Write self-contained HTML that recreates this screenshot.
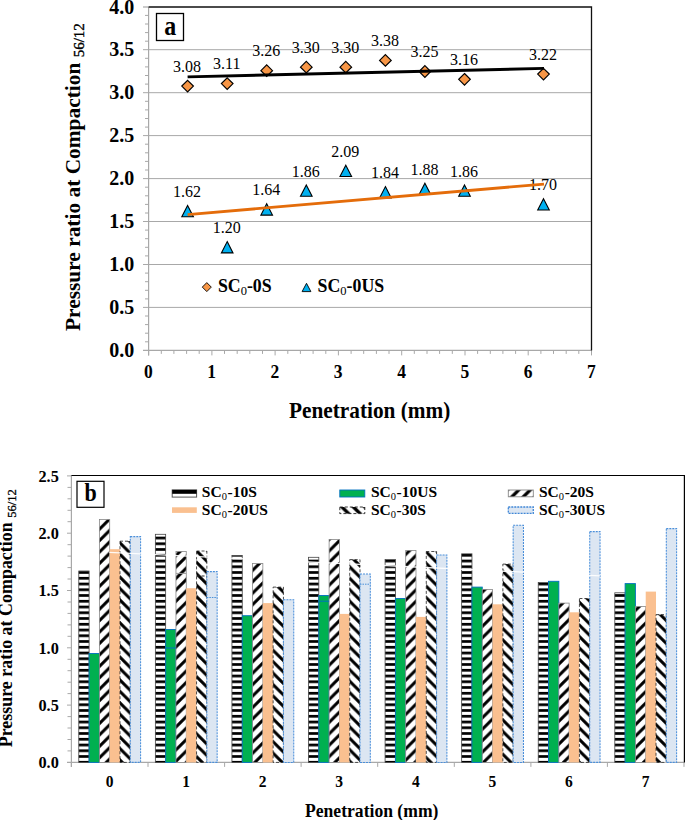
<!DOCTYPE html>
<html><head><meta charset="utf-8"><style>
html,body{margin:0;padding:0;background:#fff;width:685px;height:820px;overflow:hidden;position:relative}
text{font-family:"Liberation Serif",serif}
.ya{font-weight:bold;font-size:20px}
.xa{font-weight:bold;font-size:17.5px}
.yb{font-weight:bold;font-size:16.3px}
.xb{font-weight:bold;font-size:15.5px}
.dl{font-size:16px}
.lab{font-weight:bold;font-size:24px}
.lab2{font-weight:bold;font-size:22px}
.lg{font-weight:bold;font-size:17.8px}
.sub{font-weight:normal;font-size:12.5px}
.lgb{font-weight:bold;font-size:15.5px}
.subb{font-weight:normal;font-size:10.5px}
.ti{font-weight:bold;font-size:21.4px}
.tsub{font-weight:normal;font-size:15px;stroke:#000;stroke-width:0.35px}
.tib{font-weight:bold;font-size:17.6px}
.tib2{font-weight:bold;font-size:17.6px}
.tib3{font-weight:bold;font-size:17.95px}
.ti2{font-weight:bold;font-size:21.3px}
.tsubb{font-weight:normal;font-size:12.6px;stroke:#000;stroke-width:0.3px}
</style></head><body>
<svg width="685" height="820" viewBox="0 0 685 820" style="position:absolute;left:0;top:0">
<defs>
<pattern id="ph" patternUnits="userSpaceOnUse" width="20" height="5.75" y="1.9"><rect width="20" height="2.7" fill="#000"/></pattern>
<pattern id="pu" patternUnits="userSpaceOnUse" width="11.43" height="11.43" x="0" y="0"><path d="M-3,14.43 L14.43,-3 M-14.43,14.43 L3,-3 M8.43,14.43 L25.86,-3" stroke="#000" stroke-width="3.0"/></pattern>
<pattern id="pd" patternUnits="userSpaceOnUse" width="11.43" height="11.43" x="0" y="0"><path d="M-3,-3 L14.43,14.43 M-14.43,-3 L3,14.43 M8.43,-3 L25.86,14.43" stroke="#000" stroke-width="3.0"/></pattern>
<pattern id="puL" patternUnits="userSpaceOnUse" width="11.43" height="11.43" x="2.86" y="0"><path d="M-3,14.43 L14.43,-3 M-14.43,14.43 L3,-3 M8.43,14.43 L25.86,-3" stroke="#000" stroke-width="3.2"/></pattern>
<pattern id="pdL" patternUnits="userSpaceOnUse" width="11.43" height="11.43" x="6.45" y="0"><path d="M-3,-3 L14.43,14.43 M-14.43,-3 L3,14.43 M8.43,-3 L25.86,14.43" stroke="#000" stroke-width="3.4"/></pattern>
</defs>
<rect width="685" height="820" fill="#fff"/>
<line x1="143" y1="307.4" x2="591.5" y2="307.4" stroke="#A8A8A8" stroke-width="1"/>
<line x1="143" y1="264.5" x2="591.5" y2="264.5" stroke="#A8A8A8" stroke-width="1"/>
<line x1="143" y1="221.5" x2="591.5" y2="221.5" stroke="#A8A8A8" stroke-width="1"/>
<line x1="143" y1="178.6" x2="591.5" y2="178.6" stroke="#A8A8A8" stroke-width="1"/>
<line x1="143" y1="135.6" x2="591.5" y2="135.6" stroke="#A8A8A8" stroke-width="1"/>
<line x1="143" y1="92.7" x2="591.5" y2="92.7" stroke="#A8A8A8" stroke-width="1"/>
<line x1="143" y1="49.7" x2="591.5" y2="49.7" stroke="#A8A8A8" stroke-width="1"/>
<line x1="145" y1="341.8" x2="148.6" y2="341.8" stroke="#A8A8A8" stroke-width="1"/>
<line x1="145" y1="333.2" x2="148.6" y2="333.2" stroke="#A8A8A8" stroke-width="1"/>
<line x1="145" y1="324.6" x2="148.6" y2="324.6" stroke="#A8A8A8" stroke-width="1"/>
<line x1="145" y1="316.0" x2="148.6" y2="316.0" stroke="#A8A8A8" stroke-width="1"/>
<line x1="145" y1="298.9" x2="148.6" y2="298.9" stroke="#A8A8A8" stroke-width="1"/>
<line x1="145" y1="290.3" x2="148.6" y2="290.3" stroke="#A8A8A8" stroke-width="1"/>
<line x1="145" y1="281.7" x2="148.6" y2="281.7" stroke="#A8A8A8" stroke-width="1"/>
<line x1="145" y1="273.1" x2="148.6" y2="273.1" stroke="#A8A8A8" stroke-width="1"/>
<line x1="145" y1="255.9" x2="148.6" y2="255.9" stroke="#A8A8A8" stroke-width="1"/>
<line x1="145" y1="247.3" x2="148.6" y2="247.3" stroke="#A8A8A8" stroke-width="1"/>
<line x1="145" y1="238.7" x2="148.6" y2="238.7" stroke="#A8A8A8" stroke-width="1"/>
<line x1="145" y1="230.1" x2="148.6" y2="230.1" stroke="#A8A8A8" stroke-width="1"/>
<line x1="145" y1="213.0" x2="148.6" y2="213.0" stroke="#A8A8A8" stroke-width="1"/>
<line x1="145" y1="204.4" x2="148.6" y2="204.4" stroke="#A8A8A8" stroke-width="1"/>
<line x1="145" y1="195.8" x2="148.6" y2="195.8" stroke="#A8A8A8" stroke-width="1"/>
<line x1="145" y1="187.2" x2="148.6" y2="187.2" stroke="#A8A8A8" stroke-width="1"/>
<line x1="145" y1="170.0" x2="148.6" y2="170.0" stroke="#A8A8A8" stroke-width="1"/>
<line x1="145" y1="161.4" x2="148.6" y2="161.4" stroke="#A8A8A8" stroke-width="1"/>
<line x1="145" y1="152.8" x2="148.6" y2="152.8" stroke="#A8A8A8" stroke-width="1"/>
<line x1="145" y1="144.2" x2="148.6" y2="144.2" stroke="#A8A8A8" stroke-width="1"/>
<line x1="145" y1="127.1" x2="148.6" y2="127.1" stroke="#A8A8A8" stroke-width="1"/>
<line x1="145" y1="118.5" x2="148.6" y2="118.5" stroke="#A8A8A8" stroke-width="1"/>
<line x1="145" y1="109.9" x2="148.6" y2="109.9" stroke="#A8A8A8" stroke-width="1"/>
<line x1="145" y1="101.3" x2="148.6" y2="101.3" stroke="#A8A8A8" stroke-width="1"/>
<line x1="145" y1="84.1" x2="148.6" y2="84.1" stroke="#A8A8A8" stroke-width="1"/>
<line x1="145" y1="75.5" x2="148.6" y2="75.5" stroke="#A8A8A8" stroke-width="1"/>
<line x1="145" y1="66.9" x2="148.6" y2="66.9" stroke="#A8A8A8" stroke-width="1"/>
<line x1="145" y1="58.3" x2="148.6" y2="58.3" stroke="#A8A8A8" stroke-width="1"/>
<line x1="145" y1="41.2" x2="148.6" y2="41.2" stroke="#A8A8A8" stroke-width="1"/>
<line x1="145" y1="32.6" x2="148.6" y2="32.6" stroke="#A8A8A8" stroke-width="1"/>
<line x1="145" y1="24.0" x2="148.6" y2="24.0" stroke="#A8A8A8" stroke-width="1"/>
<line x1="145" y1="15.4" x2="148.6" y2="15.4" stroke="#A8A8A8" stroke-width="1"/>
<line x1="143" y1="7" x2="148.6" y2="7" stroke="#A8A8A8" stroke-width="1.2"/>
<line x1="143" y1="350.4" x2="591.5" y2="350.4" stroke="#A8A8A8" stroke-width="1.2"/>
<line x1="148.6" y1="350.4" x2="148.6" y2="355.4" stroke="#A8A8A8" stroke-width="1"/>
<line x1="161.3" y1="350.4" x2="161.3" y2="353.9" stroke="#A8A8A8" stroke-width="1"/>
<line x1="173.9" y1="350.4" x2="173.9" y2="353.9" stroke="#A8A8A8" stroke-width="1"/>
<line x1="186.6" y1="350.4" x2="186.6" y2="353.9" stroke="#A8A8A8" stroke-width="1"/>
<line x1="199.2" y1="350.4" x2="199.2" y2="353.9" stroke="#A8A8A8" stroke-width="1"/>
<line x1="211.9" y1="350.4" x2="211.9" y2="355.4" stroke="#A8A8A8" stroke-width="1"/>
<line x1="224.5" y1="350.4" x2="224.5" y2="353.9" stroke="#A8A8A8" stroke-width="1"/>
<line x1="237.2" y1="350.4" x2="237.2" y2="353.9" stroke="#A8A8A8" stroke-width="1"/>
<line x1="249.8" y1="350.4" x2="249.8" y2="353.9" stroke="#A8A8A8" stroke-width="1"/>
<line x1="262.5" y1="350.4" x2="262.5" y2="353.9" stroke="#A8A8A8" stroke-width="1"/>
<line x1="275.1" y1="350.4" x2="275.1" y2="355.4" stroke="#A8A8A8" stroke-width="1"/>
<line x1="287.8" y1="350.4" x2="287.8" y2="353.9" stroke="#A8A8A8" stroke-width="1"/>
<line x1="300.4" y1="350.4" x2="300.4" y2="353.9" stroke="#A8A8A8" stroke-width="1"/>
<line x1="313.1" y1="350.4" x2="313.1" y2="353.9" stroke="#A8A8A8" stroke-width="1"/>
<line x1="325.8" y1="350.4" x2="325.8" y2="353.9" stroke="#A8A8A8" stroke-width="1"/>
<line x1="338.4" y1="350.4" x2="338.4" y2="355.4" stroke="#A8A8A8" stroke-width="1"/>
<line x1="351.1" y1="350.4" x2="351.1" y2="353.9" stroke="#A8A8A8" stroke-width="1"/>
<line x1="363.7" y1="350.4" x2="363.7" y2="353.9" stroke="#A8A8A8" stroke-width="1"/>
<line x1="376.4" y1="350.4" x2="376.4" y2="353.9" stroke="#A8A8A8" stroke-width="1"/>
<line x1="389.0" y1="350.4" x2="389.0" y2="353.9" stroke="#A8A8A8" stroke-width="1"/>
<line x1="401.7" y1="350.4" x2="401.7" y2="355.4" stroke="#A8A8A8" stroke-width="1"/>
<line x1="414.3" y1="350.4" x2="414.3" y2="353.9" stroke="#A8A8A8" stroke-width="1"/>
<line x1="427.0" y1="350.4" x2="427.0" y2="353.9" stroke="#A8A8A8" stroke-width="1"/>
<line x1="439.6" y1="350.4" x2="439.6" y2="353.9" stroke="#A8A8A8" stroke-width="1"/>
<line x1="452.3" y1="350.4" x2="452.3" y2="353.9" stroke="#A8A8A8" stroke-width="1"/>
<line x1="465.0" y1="350.4" x2="465.0" y2="355.4" stroke="#A8A8A8" stroke-width="1"/>
<line x1="477.6" y1="350.4" x2="477.6" y2="353.9" stroke="#A8A8A8" stroke-width="1"/>
<line x1="490.3" y1="350.4" x2="490.3" y2="353.9" stroke="#A8A8A8" stroke-width="1"/>
<line x1="502.9" y1="350.4" x2="502.9" y2="353.9" stroke="#A8A8A8" stroke-width="1"/>
<line x1="515.6" y1="350.4" x2="515.6" y2="353.9" stroke="#A8A8A8" stroke-width="1"/>
<line x1="528.2" y1="350.4" x2="528.2" y2="355.4" stroke="#A8A8A8" stroke-width="1"/>
<line x1="540.9" y1="350.4" x2="540.9" y2="353.9" stroke="#A8A8A8" stroke-width="1"/>
<line x1="553.5" y1="350.4" x2="553.5" y2="353.9" stroke="#A8A8A8" stroke-width="1"/>
<line x1="566.2" y1="350.4" x2="566.2" y2="353.9" stroke="#A8A8A8" stroke-width="1"/>
<line x1="578.8" y1="350.4" x2="578.8" y2="353.9" stroke="#A8A8A8" stroke-width="1"/>
<line x1="591.5" y1="350.4" x2="591.5" y2="355.4" stroke="#A8A8A8" stroke-width="1"/>
<line x1="148.6" y1="7" x2="148.6" y2="355.4" stroke="#A8A8A8" stroke-width="1.2"/>
<path d="M148.6,7 H591.5 V350.4" fill="none" stroke="#111" stroke-width="1.3"/>
<text transform="translate(134.3,357.1) scale(1,1.08)" text-anchor="end" class="ya">0.0</text>
<text transform="translate(134.3,314.1) scale(1,1.08)" text-anchor="end" class="ya">0.5</text>
<text transform="translate(134.3,271.2) scale(1,1.08)" text-anchor="end" class="ya">1.0</text>
<text transform="translate(134.3,228.2) scale(1,1.08)" text-anchor="end" class="ya">1.5</text>
<text transform="translate(134.3,185.3) scale(1,1.08)" text-anchor="end" class="ya">2.0</text>
<text transform="translate(134.3,142.3) scale(1,1.08)" text-anchor="end" class="ya">2.5</text>
<text transform="translate(134.3,99.4) scale(1,1.08)" text-anchor="end" class="ya">3.0</text>
<text transform="translate(134.3,56.4) scale(1,1.08)" text-anchor="end" class="ya">3.5</text>
<text transform="translate(134.3,13.5) scale(1,1.08)" text-anchor="end" class="ya">4.0</text>
<text transform="translate(148.4,377.8) scale(1,1.08)" text-anchor="middle" class="xa">0</text>
<text transform="translate(211.7,377.8) scale(1,1.08)" text-anchor="middle" class="xa">1</text>
<text transform="translate(274.9,377.8) scale(1,1.08)" text-anchor="middle" class="xa">2</text>
<text transform="translate(338.2,377.8) scale(1,1.08)" text-anchor="middle" class="xa">3</text>
<text transform="translate(401.5,377.8) scale(1,1.08)" text-anchor="middle" class="xa">4</text>
<text transform="translate(464.8,377.8) scale(1,1.08)" text-anchor="middle" class="xa">5</text>
<text transform="translate(528.0,377.8) scale(1,1.08)" text-anchor="middle" class="xa">6</text>
<text transform="translate(591.3,377.8) scale(1,1.08)" text-anchor="middle" class="xa">7</text>
<rect x="156.5" y="13.5" width="27" height="27" fill="#fff" stroke="#000" stroke-width="1.3"/>
<text transform="translate(170.2,35.2) scale(1,1.17)" text-anchor="middle" class="lab">a</text>
<text x="187.1" y="71.7" text-anchor="middle" class="dl">3.08</text>
<text x="226.7" y="69.2" text-anchor="middle" class="dl">3.11</text>
<text x="266.2" y="56.3" text-anchor="middle" class="dl">3.26</text>
<text x="305.8" y="52.8" text-anchor="middle" class="dl">3.30</text>
<text x="345.3" y="52.8" text-anchor="middle" class="dl">3.30</text>
<text x="384.9" y="46.0" text-anchor="middle" class="dl">3.38</text>
<text x="424.4" y="57.1" text-anchor="middle" class="dl">3.25</text>
<text x="464.0" y="64.9" text-anchor="middle" class="dl">3.16</text>
<text x="543.0" y="59.7" text-anchor="middle" class="dl">3.22</text>
<text x="187.1" y="197.1" text-anchor="middle" class="dl">1.62</text>
<text x="226.7" y="233.2" text-anchor="middle" class="dl">1.20</text>
<text x="266.2" y="195.4" text-anchor="middle" class="dl">1.64</text>
<text x="305.8" y="176.5" text-anchor="middle" class="dl">1.86</text>
<text x="345.3" y="156.8" text-anchor="middle" class="dl">2.09</text>
<text x="384.9" y="178.2" text-anchor="middle" class="dl">1.84</text>
<text x="424.4" y="174.8" text-anchor="middle" class="dl">1.88</text>
<text x="464.0" y="176.5" text-anchor="middle" class="dl">1.86</text>
<text x="543.0" y="190.3" text-anchor="middle" class="dl">1.70</text>
<path d="M187.6,80.3 L193.4,86.1 L187.6,91.9 L181.8,86.1Z" fill="#F79646" stroke="#000" stroke-width="1.2"/>
<path d="M227.2,77.8 L233.0,83.6 L227.2,89.4 L221.4,83.6Z" fill="#F79646" stroke="#000" stroke-width="1.2"/>
<path d="M266.7,64.9 L272.5,70.7 L266.7,76.5 L260.9,70.7Z" fill="#F79646" stroke="#000" stroke-width="1.2"/>
<path d="M306.3,61.4 L312.1,67.2 L306.3,73.0 L300.5,67.2Z" fill="#F79646" stroke="#000" stroke-width="1.2"/>
<path d="M345.8,61.4 L351.6,67.2 L345.8,73.0 L340.0,67.2Z" fill="#F79646" stroke="#000" stroke-width="1.2"/>
<path d="M385.4,54.6 L391.2,60.4 L385.4,66.2 L379.6,60.4Z" fill="#F79646" stroke="#000" stroke-width="1.2"/>
<path d="M424.9,65.7 L430.7,71.5 L424.9,77.3 L419.1,71.5Z" fill="#F79646" stroke="#000" stroke-width="1.2"/>
<path d="M464.5,73.5 L470.3,79.3 L464.5,85.1 L458.7,79.3Z" fill="#F79646" stroke="#000" stroke-width="1.2"/>
<path d="M543.5,68.3 L549.3,74.1 L543.5,79.9 L537.7,74.1Z" fill="#F79646" stroke="#000" stroke-width="1.2"/>
<path d="M187.6,205.5 L193.4,216.8 L181.8,216.8Z" fill="#00B0F0" stroke="#000" stroke-width="1.1"/>
<path d="M227.2,241.6 L233.0,252.9 L221.4,252.9Z" fill="#00B0F0" stroke="#000" stroke-width="1.1"/>
<path d="M266.7,203.8 L272.5,215.1 L260.9,215.1Z" fill="#00B0F0" stroke="#000" stroke-width="1.1"/>
<path d="M306.3,184.9 L312.1,196.2 L300.5,196.2Z" fill="#00B0F0" stroke="#000" stroke-width="1.1"/>
<path d="M345.8,165.2 L351.6,176.5 L340.0,176.5Z" fill="#00B0F0" stroke="#000" stroke-width="1.1"/>
<path d="M385.4,186.6 L391.2,197.9 L379.6,197.9Z" fill="#00B0F0" stroke="#000" stroke-width="1.1"/>
<path d="M424.9,183.2 L430.7,194.5 L419.1,194.5Z" fill="#00B0F0" stroke="#000" stroke-width="1.1"/>
<path d="M464.5,184.9 L470.3,196.2 L458.7,196.2Z" fill="#00B0F0" stroke="#000" stroke-width="1.1"/>
<path d="M543.5,198.7 L549.3,210.0 L537.7,210.0Z" fill="#00B0F0" stroke="#000" stroke-width="1.1"/>
<line x1="187.6" y1="76.9" x2="544.0" y2="68.4" stroke="#000" stroke-width="2.9"/>
<line x1="187.6" y1="214.6" x2="544.0" y2="184.1" stroke="#E46C0A" stroke-width="2.8"/>
<path d="M206.8,282.6 L211.3,287.1 L206.8,291.6 L202.3,287.1Z" fill="#F79646" stroke="#000" stroke-width="0.9"/>
<path d="M306.5,283.3 L310.9,291.6 L302.1,291.6Z" fill="#00B0F0" stroke="#000" stroke-width="0.9"/>
<text x="217.9" y="291.7" class="lg">SC<tspan class="sub" dy="3">0</tspan><tspan dy="-3">-0S</tspan></text>
<text x="317.6" y="291.5" class="lg">SC<tspan class="sub" dy="3">0</tspan><tspan dy="-3">-0US</tspan></text>
<text transform="translate(289,417.7) scale(1,1.1)" class="ti2">Penetration (mm)</text>
<text transform="translate(80,331) rotate(-90)" class="ti">Pressure ratio at Compaction <tspan class="tsub" dy="4">56/12</tspan></text>
<line x1="67" y1="705.1" x2="71.4" y2="705.1" stroke="#A8A8A8" stroke-width="1"/>
<line x1="67" y1="647.8" x2="71.4" y2="647.8" stroke="#A8A8A8" stroke-width="1"/>
<line x1="67" y1="590.5" x2="71.4" y2="590.5" stroke="#A8A8A8" stroke-width="1"/>
<line x1="67" y1="533.2" x2="71.4" y2="533.2" stroke="#A8A8A8" stroke-width="1"/>
<line x1="67" y1="475.9" x2="71.4" y2="475.9" stroke="#A8A8A8" stroke-width="1"/>
<line x1="67.5" y1="750.9" x2="71.4" y2="750.9" stroke="#A8A8A8" stroke-width="1"/>
<line x1="67.5" y1="739.5" x2="71.4" y2="739.5" stroke="#A8A8A8" stroke-width="1"/>
<line x1="67.5" y1="728.0" x2="71.4" y2="728.0" stroke="#A8A8A8" stroke-width="1"/>
<line x1="67.5" y1="716.6" x2="71.4" y2="716.6" stroke="#A8A8A8" stroke-width="1"/>
<line x1="67.5" y1="693.6" x2="71.4" y2="693.6" stroke="#A8A8A8" stroke-width="1"/>
<line x1="67.5" y1="682.2" x2="71.4" y2="682.2" stroke="#A8A8A8" stroke-width="1"/>
<line x1="67.5" y1="670.7" x2="71.4" y2="670.7" stroke="#A8A8A8" stroke-width="1"/>
<line x1="67.5" y1="659.3" x2="71.4" y2="659.3" stroke="#A8A8A8" stroke-width="1"/>
<line x1="67.5" y1="636.3" x2="71.4" y2="636.3" stroke="#A8A8A8" stroke-width="1"/>
<line x1="67.5" y1="624.9" x2="71.4" y2="624.9" stroke="#A8A8A8" stroke-width="1"/>
<line x1="67.5" y1="613.4" x2="71.4" y2="613.4" stroke="#A8A8A8" stroke-width="1"/>
<line x1="67.5" y1="602.0" x2="71.4" y2="602.0" stroke="#A8A8A8" stroke-width="1"/>
<line x1="67.5" y1="579.0" x2="71.4" y2="579.0" stroke="#A8A8A8" stroke-width="1"/>
<line x1="67.5" y1="567.6" x2="71.4" y2="567.6" stroke="#A8A8A8" stroke-width="1"/>
<line x1="67.5" y1="556.1" x2="71.4" y2="556.1" stroke="#A8A8A8" stroke-width="1"/>
<line x1="67.5" y1="544.7" x2="71.4" y2="544.7" stroke="#A8A8A8" stroke-width="1"/>
<line x1="67.5" y1="521.7" x2="71.4" y2="521.7" stroke="#A8A8A8" stroke-width="1"/>
<line x1="67.5" y1="510.3" x2="71.4" y2="510.3" stroke="#A8A8A8" stroke-width="1"/>
<line x1="67.5" y1="498.8" x2="71.4" y2="498.8" stroke="#A8A8A8" stroke-width="1"/>
<line x1="67.5" y1="487.4" x2="71.4" y2="487.4" stroke="#A8A8A8" stroke-width="1"/>
<line x1="71.4" y1="762.4" x2="71.4" y2="766.9" stroke="#A8A8A8" stroke-width="1"/>
<line x1="148.0" y1="762.4" x2="148.0" y2="766.9" stroke="#A8A8A8" stroke-width="1"/>
<line x1="224.6" y1="762.4" x2="224.6" y2="766.9" stroke="#A8A8A8" stroke-width="1"/>
<line x1="301.1" y1="762.4" x2="301.1" y2="766.9" stroke="#A8A8A8" stroke-width="1"/>
<line x1="377.7" y1="762.4" x2="377.7" y2="766.9" stroke="#A8A8A8" stroke-width="1"/>
<line x1="454.3" y1="762.4" x2="454.3" y2="766.9" stroke="#A8A8A8" stroke-width="1"/>
<line x1="530.9" y1="762.4" x2="530.9" y2="766.9" stroke="#A8A8A8" stroke-width="1"/>
<line x1="607.4" y1="762.4" x2="607.4" y2="766.9" stroke="#A8A8A8" stroke-width="1"/>
<line x1="684.0" y1="762.4" x2="684.0" y2="766.9" stroke="#A8A8A8" stroke-width="1"/>
<line x1="67" y1="762.4" x2="684.0" y2="762.4" stroke="#A8A8A8" stroke-width="1.2"/>
<line x1="71.4" y1="475.5" x2="71.4" y2="766.9" stroke="#A8A8A8" stroke-width="1.2"/>
<rect x="78.79" y="571.0" width="10.30" height="191.4" fill="#fff"/>
<rect x="78.79" y="571.0" width="10.30" height="191.4" fill="url(#ph)" stroke="#444" stroke-width="0.8"/>
<rect x="89.09" y="653.5" width="10.30" height="108.9" fill="#00B050" stroke="#0070C0" stroke-width="0.9"/>
<rect x="99.39" y="519.4" width="10.30" height="243.0" fill="#fff"/>
<rect x="99.39" y="519.4" width="10.30" height="243.0" fill="url(#pu)" stroke="#888" stroke-width="0.8"/>
<rect x="109.69" y="549.2" width="10.30" height="213.2" fill="#FAC090"/>
<rect x="119.99" y="541.2" width="10.30" height="221.2" fill="#fff"/>
<rect x="119.99" y="541.2" width="10.30" height="221.2" fill="url(#pd)" stroke="#222" stroke-width="0.8" stroke-dasharray="3 2"/>
<rect x="130.29" y="536.6" width="10.30" height="225.8" fill="#DCE6F2" stroke="#4A8FDA" stroke-width="1.05" stroke-dasharray="2 1"/>
<rect x="155.36" y="534.3" width="10.30" height="228.1" fill="#fff"/>
<rect x="155.36" y="534.3" width="10.30" height="228.1" fill="url(#ph)" stroke="#444" stroke-width="0.8"/>
<rect x="165.66" y="629.5" width="10.30" height="132.9" fill="#00B050" stroke="#0070C0" stroke-width="0.9"/>
<rect x="175.96" y="551.5" width="10.30" height="210.9" fill="#fff"/>
<rect x="175.96" y="551.5" width="10.30" height="210.9" fill="url(#pu)" stroke="#888" stroke-width="0.8"/>
<rect x="186.26" y="588.2" width="10.30" height="174.2" fill="#FAC090"/>
<rect x="196.56" y="551.0" width="10.30" height="211.4" fill="#fff"/>
<rect x="196.56" y="551.0" width="10.30" height="211.4" fill="url(#pd)" stroke="#222" stroke-width="0.8" stroke-dasharray="3 2"/>
<rect x="206.86" y="571.6" width="10.30" height="190.8" fill="#DCE6F2" stroke="#4A8FDA" stroke-width="1.05" stroke-dasharray="2 1"/>
<rect x="231.94" y="555.5" width="10.30" height="206.9" fill="#fff"/>
<rect x="231.94" y="555.5" width="10.30" height="206.9" fill="url(#ph)" stroke="#444" stroke-width="0.8"/>
<rect x="242.24" y="615.7" width="10.30" height="146.7" fill="#00B050" stroke="#0070C0" stroke-width="0.9"/>
<rect x="252.54" y="563.6" width="10.30" height="198.8" fill="#fff"/>
<rect x="252.54" y="563.6" width="10.30" height="198.8" fill="url(#pu)" stroke="#888" stroke-width="0.8"/>
<rect x="262.84" y="603.1" width="10.30" height="159.3" fill="#FAC090"/>
<rect x="273.14" y="587.1" width="10.30" height="175.3" fill="#fff"/>
<rect x="273.14" y="587.1" width="10.30" height="175.3" fill="url(#pd)" stroke="#222" stroke-width="0.8" stroke-dasharray="3 2"/>
<rect x="283.44" y="599.7" width="10.30" height="162.7" fill="#DCE6F2" stroke="#4A8FDA" stroke-width="1.05" stroke-dasharray="2 1"/>
<rect x="308.51" y="557.3" width="10.30" height="205.1" fill="#fff"/>
<rect x="308.51" y="557.3" width="10.30" height="205.1" fill="url(#ph)" stroke="#444" stroke-width="0.8"/>
<rect x="318.81" y="595.5" width="10.30" height="166.9" fill="#00B050" stroke="#0070C0" stroke-width="0.9"/>
<rect x="329.11" y="539.4" width="10.30" height="223.0" fill="#fff"/>
<rect x="329.11" y="539.4" width="10.30" height="223.0" fill="url(#pu)" stroke="#888" stroke-width="0.8"/>
<rect x="339.41" y="613.9" width="10.30" height="148.5" fill="#FAC090"/>
<rect x="349.71" y="559.6" width="10.30" height="202.8" fill="#fff"/>
<rect x="349.71" y="559.6" width="10.30" height="202.8" fill="url(#pd)" stroke="#222" stroke-width="0.8" stroke-dasharray="3 2"/>
<rect x="360.01" y="574.0" width="10.30" height="188.4" fill="#DCE6F2" stroke="#4A8FDA" stroke-width="1.05" stroke-dasharray="2 1"/>
<rect x="385.09" y="559.6" width="10.30" height="202.8" fill="#fff"/>
<rect x="385.09" y="559.6" width="10.30" height="202.8" fill="url(#ph)" stroke="#444" stroke-width="0.8"/>
<rect x="395.39" y="598.5" width="10.30" height="163.9" fill="#00B050" stroke="#0070C0" stroke-width="0.9"/>
<rect x="405.69" y="550.4" width="10.30" height="212.0" fill="#fff"/>
<rect x="405.69" y="550.4" width="10.30" height="212.0" fill="url(#pu)" stroke="#888" stroke-width="0.8"/>
<rect x="415.99" y="616.9" width="10.30" height="145.5" fill="#FAC090"/>
<rect x="426.29" y="551.5" width="10.30" height="210.9" fill="#fff"/>
<rect x="426.29" y="551.5" width="10.30" height="210.9" fill="url(#pd)" stroke="#222" stroke-width="0.8" stroke-dasharray="3 2"/>
<rect x="436.59" y="555.0" width="10.30" height="207.4" fill="#DCE6F2" stroke="#4A8FDA" stroke-width="1.05" stroke-dasharray="2 1"/>
<rect x="461.66" y="553.8" width="10.30" height="208.6" fill="#fff"/>
<rect x="461.66" y="553.8" width="10.30" height="208.6" fill="url(#ph)" stroke="#444" stroke-width="0.8"/>
<rect x="471.96" y="587.1" width="10.30" height="175.3" fill="#00B050" stroke="#0070C0" stroke-width="0.9"/>
<rect x="482.26" y="589.4" width="10.30" height="173.0" fill="#fff"/>
<rect x="482.26" y="589.4" width="10.30" height="173.0" fill="url(#pu)" stroke="#888" stroke-width="0.8"/>
<rect x="492.56" y="604.3" width="10.30" height="158.1" fill="#FAC090"/>
<rect x="502.86" y="564.1" width="10.30" height="198.3" fill="#fff"/>
<rect x="502.86" y="564.1" width="10.30" height="198.3" fill="url(#pd)" stroke="#222" stroke-width="0.8" stroke-dasharray="3 2"/>
<rect x="513.16" y="525.2" width="10.30" height="237.2" fill="#DCE6F2" stroke="#4A8FDA" stroke-width="1.05" stroke-dasharray="2 1"/>
<rect x="538.24" y="582.5" width="10.30" height="179.9" fill="#fff"/>
<rect x="538.24" y="582.5" width="10.30" height="179.9" fill="url(#ph)" stroke="#444" stroke-width="0.8"/>
<rect x="548.54" y="581.3" width="10.30" height="181.1" fill="#00B050" stroke="#0070C0" stroke-width="0.9"/>
<rect x="558.84" y="603.1" width="10.30" height="159.3" fill="#fff"/>
<rect x="558.84" y="603.1" width="10.30" height="159.3" fill="url(#pu)" stroke="#888" stroke-width="0.8"/>
<rect x="569.14" y="612.3" width="10.30" height="150.1" fill="#FAC090"/>
<rect x="579.44" y="598.5" width="10.30" height="163.9" fill="#fff"/>
<rect x="579.44" y="598.5" width="10.30" height="163.9" fill="url(#pd)" stroke="#222" stroke-width="0.8" stroke-dasharray="3 2"/>
<rect x="589.74" y="531.6" width="10.30" height="230.8" fill="#DCE6F2" stroke="#4A8FDA" stroke-width="1.05" stroke-dasharray="2 1"/>
<rect x="614.81" y="592.8" width="10.30" height="169.6" fill="#fff"/>
<rect x="614.81" y="592.8" width="10.30" height="169.6" fill="url(#ph)" stroke="#444" stroke-width="0.8"/>
<rect x="625.11" y="583.6" width="10.30" height="178.8" fill="#00B050" stroke="#0070C0" stroke-width="0.9"/>
<rect x="635.41" y="606.5" width="10.30" height="155.9" fill="#fff"/>
<rect x="635.41" y="606.5" width="10.30" height="155.9" fill="url(#pu)" stroke="#888" stroke-width="0.8"/>
<rect x="645.71" y="591.6" width="10.30" height="170.8" fill="#FAC090"/>
<rect x="656.01" y="614.6" width="10.30" height="147.8" fill="#fff"/>
<rect x="656.01" y="614.6" width="10.30" height="147.8" fill="url(#pd)" stroke="#222" stroke-width="0.8" stroke-dasharray="3 2"/>
<rect x="666.31" y="528.6" width="10.30" height="233.8" fill="#DCE6F2" stroke="#4A8FDA" stroke-width="1.05" stroke-dasharray="2 1"/>
<line x1="175.96" y1="573.4" x2="186.26" y2="573.4" stroke="#999" stroke-width="1" />
<line x1="196.56" y1="576" x2="206.86" y2="576" stroke="#222" stroke-width="1" stroke-dasharray="3 2"/>
<line x1="206.86" y1="597.5" x2="217.16" y2="597.5" stroke="#4A90D9" stroke-width="1" stroke-dasharray="1.5 1"/>
<line x1="165.66" y1="648" x2="175.96" y2="648" stroke="#0070C0" stroke-width="1" />
<line x1="318.81" y1="601.2" x2="329.11" y2="601.2" stroke="#0070C0" stroke-width="1" />
<line x1="360.01" y1="584.2" x2="370.31" y2="584.2" stroke="#4A90D9" stroke-width="1" stroke-dasharray="1.5 1"/>
<line x1="109.4" y1="552.4" x2="600" y2="575.8" stroke="#fff" stroke-width="1.3" stroke-opacity="0.9"/>
<path d="M71.4,475.5 H684.4 V762.4" fill="none" stroke="#000" stroke-width="1.2"/>
<text transform="translate(58.8,768.2) scale(1,1.08)" text-anchor="end" class="yb">0.0</text>
<text transform="translate(58.8,710.9) scale(1,1.08)" text-anchor="end" class="yb">0.5</text>
<text transform="translate(58.8,653.6) scale(1,1.08)" text-anchor="end" class="yb">1.0</text>
<text transform="translate(58.8,596.3) scale(1,1.08)" text-anchor="end" class="yb">1.5</text>
<text transform="translate(58.8,539.0) scale(1,1.08)" text-anchor="end" class="yb">2.0</text>
<text transform="translate(58.8,481.7) scale(1,1.08)" text-anchor="end" class="yb">2.5</text>
<text transform="translate(109.5,786.9) scale(1,1.06)" text-anchor="middle" class="xb">0</text>
<text transform="translate(186.1,786.9) scale(1,1.06)" text-anchor="middle" class="xb">1</text>
<text transform="translate(262.6,786.9) scale(1,1.06)" text-anchor="middle" class="xb">2</text>
<text transform="translate(339.2,786.9) scale(1,1.06)" text-anchor="middle" class="xb">3</text>
<text transform="translate(415.8,786.9) scale(1,1.06)" text-anchor="middle" class="xb">4</text>
<text transform="translate(492.4,786.9) scale(1,1.06)" text-anchor="middle" class="xb">5</text>
<text transform="translate(568.9,786.9) scale(1,1.06)" text-anchor="middle" class="xb">6</text>
<text transform="translate(645.5,786.9) scale(1,1.06)" text-anchor="middle" class="xb">7</text>
<rect x="77" y="481.3" width="27" height="26" fill="#fff" stroke="#000" stroke-width="1.2"/>
<text transform="translate(90.5,501.4) scale(1,1.1)" text-anchor="middle" class="lab2">b</text>
<rect x="172.2" y="489.9" width="24.4" height="7.2" fill="#fff" stroke="#555" stroke-width="1"/><rect x="172.2" y="489.9" width="24.4" height="3.9" fill="#000"/>
<rect x="172" y="507.3" width="24.8" height="5.6" fill="#fff"/>
<rect x="172" y="507.3" width="24.8" height="5.6" fill="#FAC090" stroke="none" stroke-width="0.9" />
<rect x="339.8" y="490" width="25" height="7" fill="#fff"/>
<rect x="339.8" y="490" width="25" height="7" fill="#00B050" stroke="#0070C0" stroke-width="0.9" />
<rect x="339.8" y="507" width="25" height="6.6" fill="#fff"/>
<rect x="339.8" y="507" width="25" height="6.6" fill="url(#pdL)" stroke="#222" stroke-width="0.9" stroke-dasharray="3 2"/>
<rect x="508.3" y="490" width="25" height="6.8" fill="#fff"/>
<rect x="508.3" y="490" width="25" height="6.8" fill="url(#puL)" stroke="#888" stroke-width="0.9" />
<rect x="508.3" y="507" width="25" height="6.3" fill="#fff"/>
<rect x="508.3" y="507" width="25" height="6.3" fill="#DCE6F2" stroke="#3F86D6" stroke-width="1.3" stroke-dasharray="2 1"/>
<text x="201.8" y="497" class="lgb">SC<tspan class="subb" dy="2.6">0</tspan><tspan dx="0.6" dy="-2.6">-10S</tspan></text>
<text x="201.8" y="515.3" class="lgb">SC<tspan class="subb" dy="2.6">0</tspan><tspan dx="0.6" dy="-2.6">-20US</tspan></text>
<text x="370.9" y="497" class="lgb">SC<tspan class="subb" dy="2.6">0</tspan><tspan dx="0.6" dy="-2.6">-10US</tspan></text>
<text x="370.9" y="515.3" class="lgb">SC<tspan class="subb" dy="2.6">0</tspan><tspan dx="0.6" dy="-2.6">-30S</tspan></text>
<text x="539" y="497" class="lgb">SC<tspan class="subb" dy="2.6">0</tspan><tspan dx="0.6" dy="-2.6">-20S</tspan></text>
<text x="539" y="515.3" class="lgb">SC<tspan class="subb" dy="2.6">0</tspan><tspan dx="0.6" dy="-2.6">-30US</tspan></text>
<text transform="translate(305,816.6) scale(1,1.1)" class="tib2">Penetration (mm)</text>
<text transform="translate(12.2,747.3) rotate(-90)" class="tib3">Pressure ratio at Compaction <tspan class="tsubb" dy="3.5">56/12</tspan></text>
</svg>
</body></html>
